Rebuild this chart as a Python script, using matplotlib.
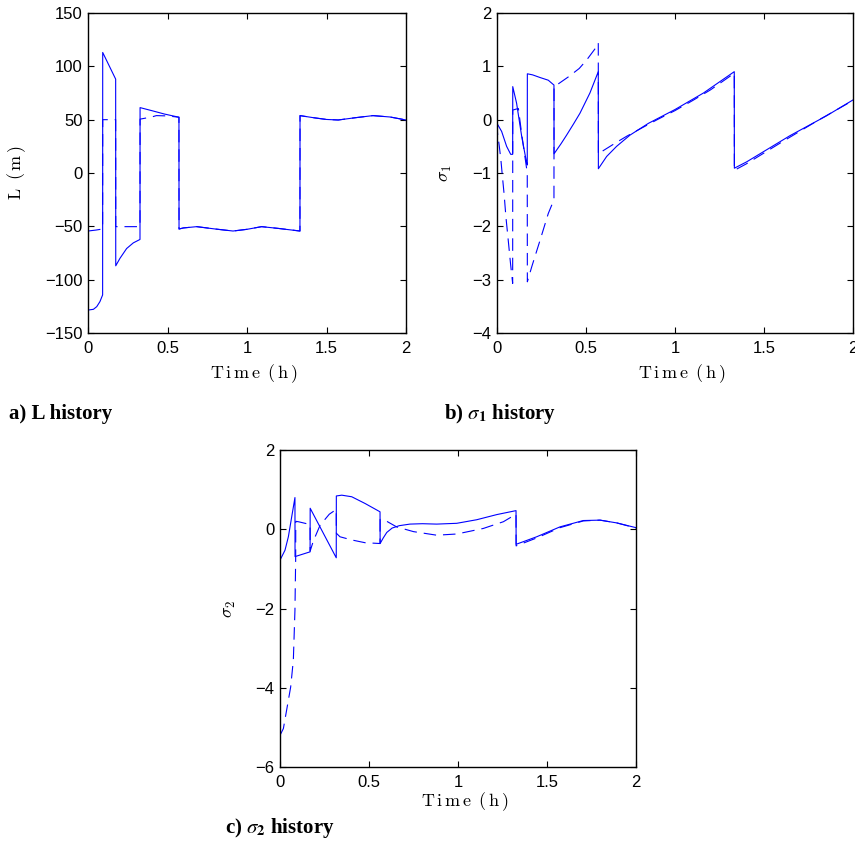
import matplotlib
matplotlib.use("Agg")
import matplotlib.pyplot as plt

# ---------------- data ----------------
# (a) L history (m)
t_L = [0, 0.034, 0.055, 0.075, 0.092, 0.0925, 0.174, 0.1745, 0.201, 0.243, 0.285, 0.327,
       0.3275, 0.40, 0.48, 0.572, 0.5725, 0.60, 0.684, 0.80, 0.912, 1.00, 1.092, 1.20, 1.333,
       1.3335, 1.42, 1.50, 1.574, 1.68, 1.792, 1.90, 2.0]
L_act = [-128.5, -127.8, -125.3, -120.6, -114.3, 113.0, 88.0, -87.0, -80.0, -70.8, -65.5, -62.3,
         61.3, 58.5, 55.3, 52.3, -52.5, -51.5, -50.3, -52.5, -54.4, -52.8, -50.3, -52.0, -54.4,
         53.8, 51.8, 50.2, 49.7, 51.8, 53.8, 52.5, 49.7]
t_Lref = [0, 0.05, 0.092, 0.0925, 0.174, 0.1745, 0.327, 0.3275, 0.40, 0.43, 0.50, 0.572,
          0.5725, 0.60, 0.684, 0.80, 0.912, 1.00, 1.092, 1.20, 1.333,
          1.3335, 1.42, 1.50, 1.574, 1.68, 1.792, 1.90, 2.0]
L_ref = [-54.4, -53.5, -52.5, 50.0, 50.0, -50.3, -50.3, 50.5, 52.5, 53.8, 53.5, 52.3,
         -52.5, -51.5, -50.3, -52.5, -54.4, -52.8, -50.3, -52.0, -54.4,
         53.8, 51.8, 50.2, 49.7, 51.8, 53.8, 52.5, 49.7]

# (b) sigma_1 history
t_s1 = [0, 0.026, 0.054, 0.077, 0.088, 0.0885, 0.11, 0.139, 0.167, 0.17, 0.1705, 0.20, 0.242,
        0.288, 0.316, 0.32, 0.3205, 0.36, 0.391, 0.43, 0.466, 0.522, 0.569, 0.5695, 0.616,
        0.672, 0.747, 0.85, 1.0, 1.16, 1.333, 1.3335, 1.403, 1.646, 1.85, 2.0]
s1_act = [-0.07, -0.22, -0.50, -0.65, -0.65, 0.62, 0.31, -0.32, -0.82, -0.85, 0.86, 0.84, 0.79,
          0.74, 0.66, 0.65, -0.64, -0.45, -0.29, -0.08, 0.12, 0.50, 0.90, -0.92, -0.69,
          -0.50, -0.29, -0.07, 0.19, 0.50, 0.90, -0.91, -0.79, -0.30, 0.07, 0.37]
t_s1ref = [0, 0.003, 0.013, 0.022, 0.03, 0.04, 0.05, 0.064, 0.076, 0.088, 0.0885, 0.12, 0.14,
           0.17, 0.1705, 0.195, 0.242, 0.288, 0.32, 0.3205, 0.344, 0.40, 0.462, 0.504, 0.56,
           0.569, 0.5695, 0.597, 0.669, 0.729, 0.80, 0.90, 1.0, 1.1, 1.2, 1.333, 1.3335, 1.40,
           1.60, 1.80, 2.0]
s1_ref = [-0.05, -0.25, -0.50, -0.76, -1.05, -1.40, -1.82, -2.29, -2.70, -3.07, 0.18, 0.21, -0.30,
          -1.00, -3.04, -2.76, -2.26, -1.76, -1.50, 0.62, 0.67, 0.80, 0.96, 1.12, 1.37,
          1.44, -0.65, -0.58, -0.43, -0.31, -0.18, 0.00, 0.17, 0.36, 0.56, 0.87, -0.95, -0.83,
          -0.42, -0.02, 0.36]

# (c) sigma_2 history
t_s2 = [0, 0.028, 0.047, 0.066, 0.084, 0.0845, 0.169, 0.1695, 0.316, 0.3165, 0.347, 0.403,
        0.478, 0.562, 0.5625, 0.58, 0.60, 0.63, 0.67, 0.73, 0.80, 0.88, 0.993, 1.105, 1.218,
        1.326, 1.3265, 1.442, 1.573, 1.704, 1.798, 1.892, 2.0]
s2_act = [-0.78, -0.53, -0.19, 0.32, 0.80, -0.69, -0.57, 0.53, -0.72, 0.84, 0.86, 0.82,
          0.65, 0.44, -0.36, -0.22, -0.08, 0.03, 0.09, 0.13, 0.14, 0.13, 0.15, 0.24, 0.37,
          0.47, -0.38, -0.19, 0.06, 0.22, 0.23, 0.16, 0.04]
t_s2ref = [0, 0.019, 0.037, 0.06, 0.075, 0.084, 0.088, 0.0885, 0.103, 0.169, 0.1695, 0.187,
           0.225, 0.277, 0.316, 0.3165, 0.337, 0.403, 0.478, 0.562, 0.5625, 0.60, 0.655, 0.75,
           0.88, 0.993, 1.142, 1.255, 1.326, 1.3265, 1.442, 1.573, 1.704, 1.798, 1.892, 2.0]
s2_ref = [-5.20, -5.03, -4.57, -3.98, -3.30, -2.04, -0.75, 0.20, 0.19, 0.12, -0.55, -0.30,
          0.10, 0.38, 0.50, -0.10, -0.19, -0.27, -0.34, -0.36, 0.25, 0.20, 0.06, -0.06,
          -0.15, -0.12, 0.02, 0.19, 0.38, -0.42, -0.22, 0.04, 0.21, 0.23, 0.16, 0.03]

x_ticks = [0, 0.5, 1, 1.5, 2]
x_ticklabels = ["0", "0.5", "1", "1.5", "2"]
L_ticks = [-150, -100, -50, 0, 50, 100, 150]
s1_ticks = [-4, -3, -2, -1, 0, 1, 2]
s2_ticks = [-6, -4, -2, 0, 2]

# ---------------- style ----------------
plt.rcParams['font.family'] = ['Liberation Sans', 'DejaVu Sans']
plt.rcParams['lines.scale_dashes'] = False

W, H = 855, 847
fig = plt.figure(figsize=(W / 100, H / 100), dpi=100)


def px_axes(l, t, r, b):
    return fig.add_axes([l / W, 1 - b / H, (r - l) / W, (b - t) / H])


ax_a = px_axes(88, 13, 406, 333)
ax_b = px_axes(497, 13, 853, 333)
ax_c = px_axes(280, 450, 636, 767)

blue = (0, 0, 1)
lw = 0.8
dash = (0, (9, 5))

ax_a.plot(t_Lref, L_ref, color=blue, lw=lw, linestyle=dash)
ax_a.plot(t_L, L_act, color=blue, lw=lw)
ax_b.plot(t_s1ref, s1_ref, color=blue, lw=lw, linestyle=dash)
ax_b.plot(t_s1, s1_act, color=blue, lw=lw)
ax_c.plot(t_s2ref, s2_ref, color=blue, lw=lw, linestyle=dash)
ax_c.plot(t_s2, s2_act, color=blue, lw=lw)

label_kw = dict(fontsize=13, math_fontfamily='cm')
xlab = r"$\mathrm{T\,i\,m\,e\;\;(\,h\,)}$"

for ax, yt, ylim in [(ax_a, L_ticks, (-150, 150)), (ax_b, s1_ticks, (-4, 2)), (ax_c, s2_ticks, (-6, 2))]:
    ax.set_xlim(0, 2)
    ax.set_ylim(*ylim)
    ax.set_xticks(x_ticks)
    ax.set_xticklabels(x_ticklabels)
    ax.set_yticks(yt)
    ax.tick_params(direction='in', top=True, right=True, length=4, width=0.8,
                   labelsize=12)
    ax.tick_params(axis='x', pad=6)
    ax.tick_params(axis='y', pad=4)
    for s in ax.spines.values():
        s.set_linewidth(1.0)
    ax.set_xlabel(xlab, **label_kw)

ax_a.set_ylabel(r"$\mathrm{L\;\;(\,m\,)}$", **label_kw)
ax_b.set_ylabel(r"$\sigma_1$", **label_kw)
ax_c.set_ylabel(r"$\sigma_2$", **label_kw)

ax_a.xaxis.set_label_coords(0.52, -0.093)
ax_b.xaxis.set_label_coords(0.52, -0.093)
ax_c.xaxis.set_label_coords(0.52, -0.075)
ax_a.yaxis.set_label_coords(-0.19, 0.5)
ax_b.yaxis.set_label_coords(-0.122, 0.5)
ax_c.yaxis.set_label_coords(-0.118, 0.5)

cap_kw = dict(fontsize=15, fontweight='bold', family='Liberation Serif',
              math_fontfamily='stix', va='baseline', ha='left')
fig.text(9 / W, 1 - 419 / H, "a) L history", **cap_kw)
fig.text(444 / W, 1 - 419 / H, r"b) $\sigma_{\mathbf{1}}$ history", **cap_kw)
fig.text(225 / W, 1 - 833 / H, r"c) $\sigma_{\mathbf{2}}$ history", **cap_kw)

fig.savefig("out.png", dpi=100)
